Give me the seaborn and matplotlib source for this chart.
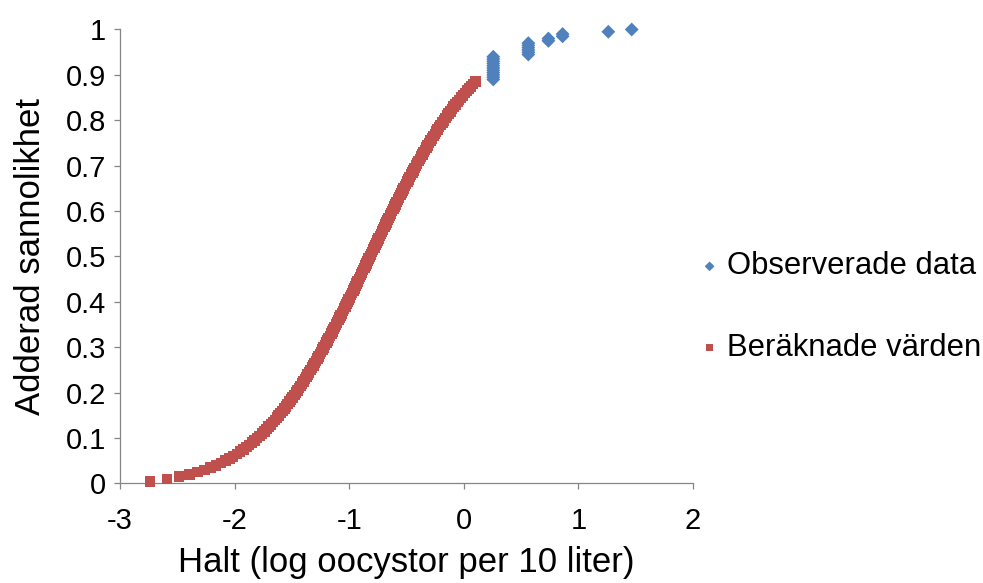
import matplotlib
matplotlib.use("Agg")
import matplotlib.pyplot as plt
import seaborn as sns
import pandas as pd

# Computed cumulative probabilities and the corresponding log concentrations
computed_p = [
    0.005, 0.010, 0.015, 0.020, 0.025, 0.030, 0.035, 0.040, 0.045, 0.050,
    0.055, 0.060, 0.065, 0.070, 0.075, 0.080, 0.085, 0.090, 0.095, 0.100,
    0.105, 0.110, 0.115, 0.120, 0.125, 0.130, 0.135, 0.140, 0.145, 0.150,
    0.155, 0.160, 0.165, 0.170, 0.175, 0.180, 0.185, 0.190, 0.195, 0.200,
    0.205, 0.210, 0.215, 0.220, 0.225, 0.230, 0.235, 0.240, 0.245, 0.250,
    0.255, 0.260, 0.265, 0.270, 0.275, 0.280, 0.285, 0.290, 0.295, 0.300,
    0.305, 0.310, 0.315, 0.320, 0.325, 0.330, 0.335, 0.340, 0.345, 0.350,
    0.355, 0.360, 0.365, 0.370, 0.375, 0.380, 0.385, 0.390, 0.395, 0.400,
    0.405, 0.410, 0.415, 0.420, 0.425, 0.430, 0.435, 0.440, 0.445, 0.450,
    0.455, 0.460, 0.465, 0.470, 0.475, 0.480, 0.485, 0.490, 0.495, 0.500,
    0.505, 0.510, 0.515, 0.520, 0.525, 0.530, 0.535, 0.540, 0.545, 0.550,
    0.555, 0.560, 0.565, 0.570, 0.575, 0.580, 0.585, 0.590, 0.595, 0.600,
    0.605, 0.610, 0.615, 0.620, 0.625, 0.630, 0.635, 0.640, 0.645, 0.650,
    0.655, 0.660, 0.665, 0.670, 0.675, 0.680, 0.685, 0.690, 0.695, 0.700,
    0.705, 0.710, 0.715, 0.720, 0.725, 0.730, 0.735, 0.740, 0.745, 0.750,
    0.755, 0.760, 0.765, 0.770, 0.775, 0.780, 0.785, 0.790, 0.795, 0.800,
    0.805, 0.810, 0.815, 0.820, 0.825, 0.830, 0.835, 0.840, 0.845, 0.850,
    0.855, 0.860, 0.865, 0.870, 0.875, 0.880, 0.885,
]
computed_x = [
    -2.740, -2.590, -2.485, -2.395, -2.323, -2.263, -2.210, -2.163, -2.120, -2.082,
    -2.046, -2.013, -1.981, -1.952, -1.924, -1.898, -1.873, -1.848, -1.825, -1.803,
    -1.782, -1.761, -1.741, -1.721, -1.702, -1.684, -1.666, -1.649, -1.632, -1.615,
    -1.599, -1.583, -1.567, -1.552, -1.537, -1.522, -1.508, -1.493, -1.479, -1.466,
    -1.452, -1.439, -1.425, -1.412, -1.399, -1.387, -1.374, -1.362, -1.350, -1.337,
    -1.325, -1.313, -1.302, -1.290, -1.279, -1.267, -1.256, -1.245, -1.233, -1.222,
    -1.211, -1.200, -1.190, -1.179, -1.168, -1.157, -1.147, -1.136, -1.126, -1.116,
    -1.105, -1.095, -1.085, -1.075, -1.064, -1.054, -1.044, -1.034, -1.024, -1.014,
    -1.004, -0.995, -0.985, -0.975, -0.965, -0.955, -0.946, -0.936, -0.926, -0.916,
    -0.907, -0.897, -0.887, -0.878, -0.868, -0.859, -0.849, -0.839, -0.830, -0.820,
    -0.810, -0.801, -0.791, -0.781, -0.772, -0.762, -0.753, -0.743, -0.733, -0.724,
    -0.714, -0.704, -0.694, -0.685, -0.675, -0.665, -0.655, -0.645, -0.636, -0.626,
    -0.616, -0.606, -0.596, -0.586, -0.576, -0.565, -0.555, -0.545, -0.535, -0.524,
    -0.514, -0.504, -0.493, -0.483, -0.472, -0.461, -0.450, -0.440, -0.429, -0.418,
    -0.407, -0.395, -0.384, -0.373, -0.361, -0.350, -0.338, -0.327, -0.315, -0.303,
    -0.290, -0.278, -0.266, -0.253, -0.241, -0.228, -0.215, -0.201, -0.188, -0.174,
    -0.161, -0.147, -0.132, -0.118, -0.103, -0.088, -0.073, -0.057, -0.041, -0.025,
    -0.008, 0.009, 0.026, 0.044, 0.062, 0.081, 0.101,
]

# Observed samples (log concentration, cumulative probability)
observed_x = [
    0.257, 0.257, 0.257, 0.257, 0.257, 0.257, 0.257, 0.257, 0.257, 0.257, 0.257,
    0.563, 0.563, 0.563, 0.563, 0.563, 0.563,
    0.738, 0.738,
    0.862, 0.862,
    1.261,
    1.465,
]
observed_p = [
    0.890, 0.895, 0.900, 0.905, 0.910, 0.915, 0.920, 0.925, 0.930, 0.935, 0.940,
    0.945, 0.950, 0.955, 0.960, 0.965, 0.970,
    0.975, 0.980,
    0.985, 0.990,
    0.995,
    1.000,
]

x_ticks = [-3, -2, -1, 0, 1, 2]
x_tick_labels = ["-3", "-2", "-1", "0", "1", "2"]
y_ticks = [0, 0.1, 0.2, 0.3, 0.4, 0.5, 0.6, 0.7, 0.8, 0.9, 1.0]
y_tick_labels = ["0", "0.1", "0.2", "0.3", "0.4", "0.5", "0.6", "0.7", "0.8", "0.9", "1"]

BLUE = "#4F81BD"
RED = "#C0504D"
GREY = "#868686"
TICK_FS = 21
TITLE_FS = 25
LEGEND_FS = 22.3

sns.set_theme(style="ticks")
plt.rcParams["font.family"] = ["Liberation Sans", "DejaVu Sans"]
plt.rcParams["axes.unicode_minus"] = False
plt.rcParams["text.color"] = "black"
plt.rcParams["axes.labelcolor"] = "black"

fig = plt.figure(figsize=(9.83, 5.83), dpi=100)
ax = fig.add_axes([0.1221, 0.1707, 0.5829, 0.7787])

observed = pd.DataFrame({"x": observed_x, "p": observed_p})
computed = pd.DataFrame({"x": computed_x, "p": computed_p})

sns.scatterplot(data=observed, x="x", y="p", marker="D", s=50, color=BLUE,
                edgecolor="none", linewidth=0, label="Observerade data",
                ax=ax, clip_on=False, zorder=3)
sns.scatterplot(data=computed, x="x", y="p", marker="s", s=58, color=RED,
                edgecolor="none", linewidth=0, label="Beräknade värden",
                ax=ax, clip_on=False, zorder=3)

ax.set_xlim(-3, 2)
ax.set_ylim(0, 1)
ax.set_xticks(x_ticks)
ax.set_xticklabels(x_tick_labels)
ax.set_yticks(y_ticks)
ax.set_yticklabels(y_tick_labels)

for side in ("top", "right"):
    ax.spines[side].set_visible(False)
for side in ("left", "bottom"):
    ax.spines[side].set_color(GREY)
    ax.spines[side].set_linewidth(0.9)

ax.tick_params(axis="both", direction="out", length=4, width=0.9, color=GREY,
               labelsize=TICK_FS, labelcolor="black")
ax.tick_params(axis="x", pad=13)
ax.tick_params(axis="y", pad=6)

ax.set_xlabel("Halt (log oocystor per 10 liter)", fontsize=TITLE_FS, va="center")
ax.set_ylabel("Adderad sannolikhet", fontsize=TITLE_FS, va="center")
ax.xaxis.set_label_coords(0.5, -0.173)
ax.yaxis.set_label_coords(-0.157, 0.5)

ax.legend(loc="center left", bbox_to_anchor=(0.714, 0.4734),
          bbox_transform=fig.transFigure, frameon=False, fontsize=LEGEND_FS,
          handlelength=0.5, handletextpad=0.3, borderpad=0, borderaxespad=0,
          labelspacing=1.65, markerscale=0.7)

fig.savefig("out.png", dpi=100)
